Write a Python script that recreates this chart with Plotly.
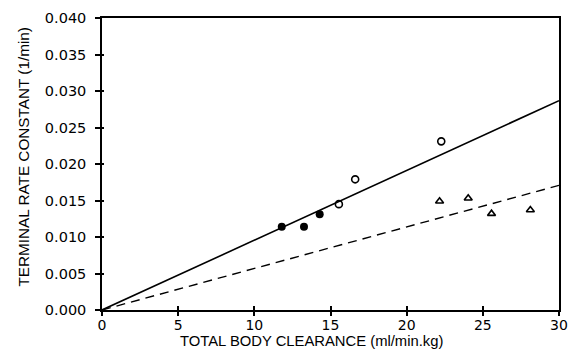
import plotly.graph_objects as go

# Clearance (ml/min.kg) and terminal rate constant (1/min) per group
filled_x = [11.8, 13.26, 14.29]
filled_y = [0.0114, 0.0114, 0.0131]
open_x = [15.55, 16.62, 22.27]
open_y = [0.0145, 0.0179, 0.0231]
tri_x = [22.16, 24.04, 25.57, 28.12]
tri_y = [0.0149, 0.0153, 0.0132, 0.0137]

# Regression lines through the origin
line_x = [0, 30]
solid_slope = 0.000956
dashed_slope = 0.000569

x_ticks = [0, 5, 10, 15, 20, 25, 30]
y_ticks = [0.000, 0.005, 0.010, 0.015, 0.020, 0.025, 0.030, 0.035, 0.040]

TICK_FONT = "DejaVu Sans, Arial, sans-serif"
TITLE_FONT = "Liberation Sans, Arial, sans-serif"

fig = go.Figure()
fig.add_trace(go.Scatter(x=line_x, y=[solid_slope * v for v in line_x], mode="lines",
                         line=dict(color="black", width=1.6), showlegend=False))
fig.add_trace(go.Scatter(x=line_x, y=[dashed_slope * v for v in line_x], mode="lines",
                         line=dict(color="black", width=1.4, dash="9px,6px"), showlegend=False))
fig.add_trace(go.Scatter(x=filled_x, y=filled_y, mode="markers",
                         marker=dict(symbol="circle", size=8, color="black"), showlegend=False))
fig.add_trace(go.Scatter(x=open_x, y=open_y, mode="markers",
                         marker=dict(symbol="circle-open", size=7, color="black",
                                     line=dict(width=1.6)), showlegend=False))
fig.add_trace(go.Scatter(x=tri_x, y=tri_y, mode="markers",
                         marker=dict(symbol="triangle-up-open", size=7, color="black",
                                     line=dict(width=1.6)), showlegend=False))

axis_common = dict(showgrid=False, zeroline=False, showline=True, linecolor="black",
                   linewidth=1.5, mirror=True, ticks="outside",
                   tickwidth=1.5, tickcolor="black")

fig.update_layout(
    width=578, height=349,
    margin=dict(l=102, r=10, t=16, b=39),
    plot_bgcolor="white", paper_bgcolor="white",
    xaxis=dict(range=[0, 30], tickvals=x_ticks, ticktext=[str(v) for v in x_ticks],
               ticklen=4, ticklabelstandoff=-3,
               tickfont=dict(family=TICK_FONT, size=14, color="black"), **axis_common),
    yaxis=dict(range=[0, 0.040], tickvals=y_ticks,
               ticktext=[f"{v:.3f}" for v in y_ticks], ticklen=5, ticklabelstandoff=6,
               tickfont=dict(family=TICK_FONT, size=14.5, color="black"), **axis_common),
    # inner tick marks so ticks cross the axis lines
    xaxis2=dict(range=[0, 30], overlaying="x", tickvals=x_ticks, showticklabels=False,
                ticks="inside", ticklen=4, tickwidth=1.5, tickcolor="black",
                showgrid=False, zeroline=False, showline=False),
    yaxis2=dict(range=[0, 0.040], overlaying="y", tickvals=y_ticks, showticklabels=False,
                ticks="inside", ticklen=2, tickwidth=1.5, tickcolor="black",
                showgrid=False, zeroline=False, showline=False),
    annotations=[
        dict(text="TOTAL BODY CLEARANCE (ml/min.kg)", xref="paper", yref="paper",
             x=(316 - 102) / 466, y=-(341.5 - 310) / 294, xanchor="center",
             yanchor="middle", showarrow=False,
             font=dict(family=TITLE_FONT, size=14.8, color="black")),
        dict(text="TERMINAL RATE CONSTANT (1/min)", xref="paper", yref="paper",
             x=-(102 - 22) / 466, y=(310 - 156) / 294, xanchor="center", yanchor="middle",
             textangle=-90, showarrow=False,
             font=dict(family=TITLE_FONT, size=15.3, color="black")),
    ],
)
fig.add_trace(go.Scatter(x=[None], y=[None], xaxis="x2", yaxis="y2", showlegend=False))

fig.write_html("out.html")
